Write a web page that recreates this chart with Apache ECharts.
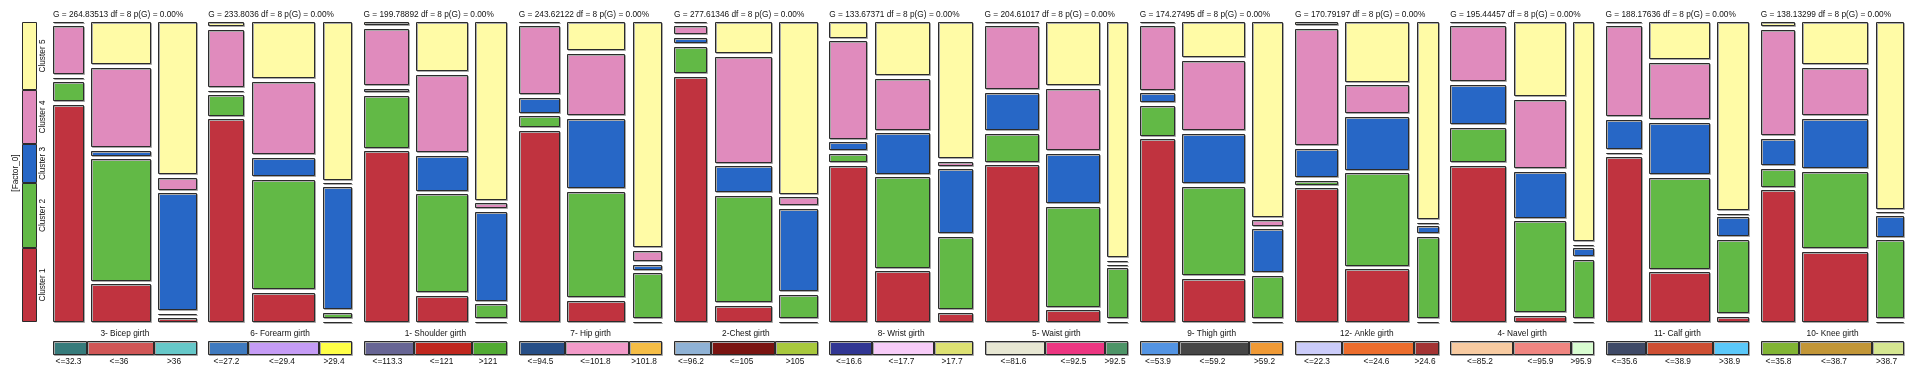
<!DOCTYPE html>
<html><head><meta charset="utf-8">
<script src="https://cdn.jsdelivr.net/npm/echarts@6/dist/echarts.min.js"></script>
<style>html,body{margin:0;padding:0;background:#fff}#c{width:1917px;height:375px}</style>
</head><body><div id="c"></div>
<script>
// ---------------- DATA ----------------
const clusterNames = ['Cluster 1', 'Cluster 2', 'Cluster 3', 'Cluster 4', 'Cluster 5'];
const clusterColors = ['#c0333f', '#62b946', '#2767c6', '#e08bbd', '#fffba6'];
const clusterShare = [24.8, 21.4, 13.0, 18.2, 22.6]; // % of all cases, Cluster 1..5

const variables = ['3- Bicep girth', '6- Forearm girth', '1- Shoulder girth', '7- Hip girth', '2-Chest girth', '8- Wrist girth',
  '5- Waist girth', '9- Thigh girth', '12- Ankle girth', '4- Navel girth', '11- Calf girth', '10- Knee girth'];
const gStats = ['264.83513', '233.8036', '199.78892', '243.62122', '277.61346', '133.67371',
  '204.61017', '174.27495', '170.79197', '195.44457', '188.17636', '138.13299'];
const binLabels = [
  ['<=32.3', '<=36', '>36'], ['<=27.2', '<=29.4', '>29.4'], ['<=113.3', '<=121', '>121'], ['<=94.5', '<=101.8', '>101.8'],
  ['<=96.2', '<=105', '>105'], ['<=16.6', '<=17.7', '>17.7'], ['<=81.6', '<=92.5', '>92.5'], ['<=53.9', '<=59.2', '>59.2'],
  ['<=22.3', '<=24.6', '>24.6'], ['<=85.2', '<=95.9', '>95.9'], ['<=35.6', '<=38.9', '>38.9'], ['<=35.8', '<=38.7', '>38.7']];
const binColors = [
  ['#367b7b', '#d05656', '#66c8c9'], ['#3f7abf', '#c59cf5', '#ffff47'], ['#676594', '#c0271e', '#51aa33'], ['#274f87', '#f29bc9', '#f5bd46'],
  ['#8fb2d5', '#7a1411', '#a8c83d'], ['#313693', '#f7ccf8', '#dde173'], ['#e7e7d3', '#ec3681', '#4d9467'], ['#5394e3', '#464646', '#f09a36'],
  ['#cbccfa', '#ec6d2d', '#a33434'], ['#f8cba1', '#f08681', '#d9fdd1'], ['#3f4a67', '#ce4f33', '#5bc8f9'], ['#81b434', '#c29637', '#d5e691']];
// % of cases in each bin (column widths)
const binShares = [
  [23.9, 46.4, 29.7], [27.9, 49.5, 22.6], [35.3, 40.0, 24.7], [31.9, 45.1, 23.0],
  [25.9, 44.4, 29.7], [29.5, 43.2, 27.3], [42.1, 41.5, 16.4], [27.1, 48.7, 24.2],
  [33.0, 49.8, 17.2], [43.5, 40.4, 16.1], [28.2, 46.8, 25.0], [26.4, 51.3, 22.3]];
// % of each bin per cluster [Cluster 1..5], one triple of columns per variable
const clusterPct = [
  [[76.2, 6.8, 0, 17.1, 0], [13.2, 42.5, 1.8, 27.8, 14.7], [1.5, 0, 40.9, 4.1, 53.3]],
  [[71.0, 7.3, 0, 20.2, 1.4], [10.1, 38.4, 6.5, 25.4, 19.6], [0, 1.8, 42.8, 0, 55.2]],
  [[59.8, 18.2, 1.2, 19.5, 1.2], [9.2, 34.3, 12.2, 27.1, 17.2], [0, 4.9, 31.1, 1.6, 62.1]],
  [[67.0, 3.9, 5.1, 24.1, 0], [7.4, 36.8, 24.3, 21.5, 9.9], [0, 15.7, 1.8, 3.5, 78.8]],
  [[85.9, 9.1, 1.8, 3.0, 0], [5.6, 37.2, 9.1, 37.1, 10.9], [0, 8.2, 28.8, 2.8, 60.2]],
  [[54.8, 2.8, 2.8, 34.1, 5.5], [17.8, 31.6, 14.2, 17.7, 18.7], [3.2, 25.3, 22.5, 1.4, 47.7]],
  [[54.9, 9.7, 13.2, 22.2, 0], [4.1, 34.9, 17.4, 21.4, 22.2], [0, 17.5, 0, 0, 82.5]],
  [[64.0, 10.5, 3.0, 22.4, 0], [15.1, 30.9, 17.3, 24.3, 12.4], [0, 14.9, 15.0, 1.8, 68.3]],
  [[46.9, 1.3, 9.8, 40.8, 1.2], [18.5, 32.4, 18.6, 9.7, 20.9], [0, 28.6, 2.3, 0, 69.0]],
  [[54.7, 12.0, 13.8, 19.5, 0], [2.2, 31.8, 16.0, 24.0, 26.0], [0, 20.5, 2.7, 0, 76.8]],
  [[58.0, 0, 10.3, 31.8, 0], [17.4, 31.8, 18.0, 19.8, 13.0], [1.8, 25.8, 6.5, 0, 65.9]],
  [[46.2, 6.2, 9.2, 37.0, 1.4], [24.6, 26.7, 17.3, 16.6, 14.9], [0, 27.3, 7.2, 0, 65.5]]];

// ---------------- LAYOUT ----------------
const FONT = '"Liberation Sans", Arial, Helvetica, sans-serif';
const FS = 8.3;
const PANEL_LEFT0 = 53, PANEL_STEP = 155.25, PANEL_W = 143.7;
const PLOT_TOP = 22, PLOT_H = 300;
const LEG_TOP = 341, LEG_H = 14.3;
const GAP_X = 5.78, GAP_Y = 1.30;
const X_MAX = 100 + 2 * GAP_X, Y_MAX = 100 + 4 * GAP_Y;
const N = variables.length;

const boxStyle = (fill) => ({
  fill, stroke: '#2b2b2b', lineWidth: 1,
  shadowColor: '#a8a8a8', shadowOffsetX: 1, shadowOffsetY: 1, shadowBlur: 0
});
function pxRect(api, x0, x1, y0, y1) {
  const a = api.coord([x0, y1]), b = api.coord([x1, y0]);
  const l = Math.round(a[0]), r = Math.round(b[0]);
  const t = Math.round(a[1]), bt = Math.round(b[1]);
  return { x: l + 0.5, y: t + 0.5, width: r - l - 1, height: Math.max(0, bt - t - 1) };
}

const grid = [], xAxis = [], yAxis = [], series = [], graphic = [];
function addGrid(left, top, width, height, xmax, ymax) {
  grid.push({ left, top, width, height, containLabel: false });
  const gi = grid.length - 1;
  xAxis.push({ type: 'value', gridIndex: gi, min: 0, max: xmax, show: false });
  yAxis.push({ type: 'value', gridIndex: gi, min: 0, max: ymax, show: false });
  return gi;
}

for (let i = 0; i < N; i++) {
  const left = PANEL_LEFT0 + i * PANEL_STEP;
  // mosaic
  const gm = addGrid(left, PLOT_TOP, PANEL_W, PLOT_H, X_MAX, Y_MAX);
  const data = [];
  let xs = 0;
  for (let c = 0; c < 3; c++) {
    const w = binShares[i][c];
    const pct = clusterPct[i][c];
    const tot = pct.reduce((a, b) => a + b, 0);
    let ys = 0;
    for (let k = 0; k < 5; k++) {
      const h = pct[k] / tot * 100;
      data.push([xs, xs + w, ys, ys + h, k]);
      ys += h + GAP_Y;
    }
    xs += w + GAP_X;
  }
  series.push({
    type: 'custom', xAxisIndex: gm, yAxisIndex: gm, clip: false, silent: true, data,
    renderItem: (params, api) => ({
      type: 'rect',
      shape: pxRect(api, api.value(0), api.value(1), api.value(2), api.value(3)),
      style: boxStyle(clusterColors[api.value(4)])
    })
  });
  // legend bar of bins
  const gl = addGrid(left, LEG_TOP, PANEL_W, LEG_H, 100, 1);
  const ldata = [];
  let ls = 0;
  const sumW = binShares[i].reduce((a, b) => a + b, 0);
  for (let c = 0; c < 3; c++) {
    const w = binShares[i][c] / sumW * 100;
    ldata.push([ls, ls + w, c]);
    ls += w;
  }
  series.push({
    type: 'custom', xAxisIndex: gl, yAxisIndex: gl, clip: false, silent: true, data: ldata,
    renderItem: ((pi) => (params, api) => {
      const c = api.value(2);
      const r = pxRect(api, api.value(0), api.value(1), 0, 1);
      return {
        type: 'group', children: [
          { type: 'rect', shape: r, style: boxStyle(binColors[pi][c]) },
          { type: 'text', x: r.x + r.width / 2 - 1.5, y: r.y + r.height + 7,
            style: { text: binLabels[pi][c], fill: '#111', fontSize: FS, fontFamily: FONT, align: 'center', verticalAlign: 'middle' } }
        ]
      };
    })(i)
  });
  graphic.push({ type: 'text', x: left, y: 15, silent: true,
    style: { text: 'G = ' + gStats[i] + ' df = 8 p(G) = 0.00%', fill: '#111', fontSize: FS, fontFamily: FONT, align: 'left', verticalAlign: 'middle' } });
  graphic.push({ type: 'text', x: left + PANEL_W / 2, y: 334, silent: true,
    style: { text: variables[i], fill: '#111', fontSize: FS, fontFamily: FONT, align: 'center', verticalAlign: 'middle' } });
}

// factor bar on the left
const gf = addGrid(22, PLOT_TOP, 14.5, PLOT_H, 1, 100);
const fdata = [];
let fs = 0;
const fsum = clusterShare.reduce((a, b) => a + b, 0);
for (let k = 0; k < 5; k++) {
  const h = clusterShare[k] / fsum * 100;
  fdata.push([fs, fs + h, k]);
  fs += h;
}
series.push({
  type: 'custom', xAxisIndex: gf, yAxisIndex: gf, clip: false, silent: true, data: fdata,
  renderItem: (params, api) => {
    const k = api.value(2);
    const r = pxRect(api, 0, 1, api.value(0), api.value(1));
    return {
      type: 'group', children: [
        { type: 'rect', shape: r, style: { fill: clusterColors[k], stroke: '#2b2b2b', lineWidth: 1 } },
        { type: 'text', x: r.x + r.width + 6.5, y: r.y + r.height / 2, rotation: Math.PI / 2,
          style: { text: clusterNames[k], fill: '#111', fontSize: FS, fontFamily: FONT, align: 'center', verticalAlign: 'middle' } }
      ]
    };
  }
});
graphic.push({ type: 'text', x: 16, y: 173, rotation: Math.PI / 2, silent: true,
  style: { text: '[Factor_0]', fill: '#111', fontSize: FS, fontFamily: FONT, align: 'center', verticalAlign: 'middle' } });

const chart = echarts.init(document.getElementById('c'), null, { renderer: 'canvas' });
chart.setOption({ animation: false, backgroundColor: '#ffffff', grid, xAxis, yAxis, series, graphic });
</script></body></html>
